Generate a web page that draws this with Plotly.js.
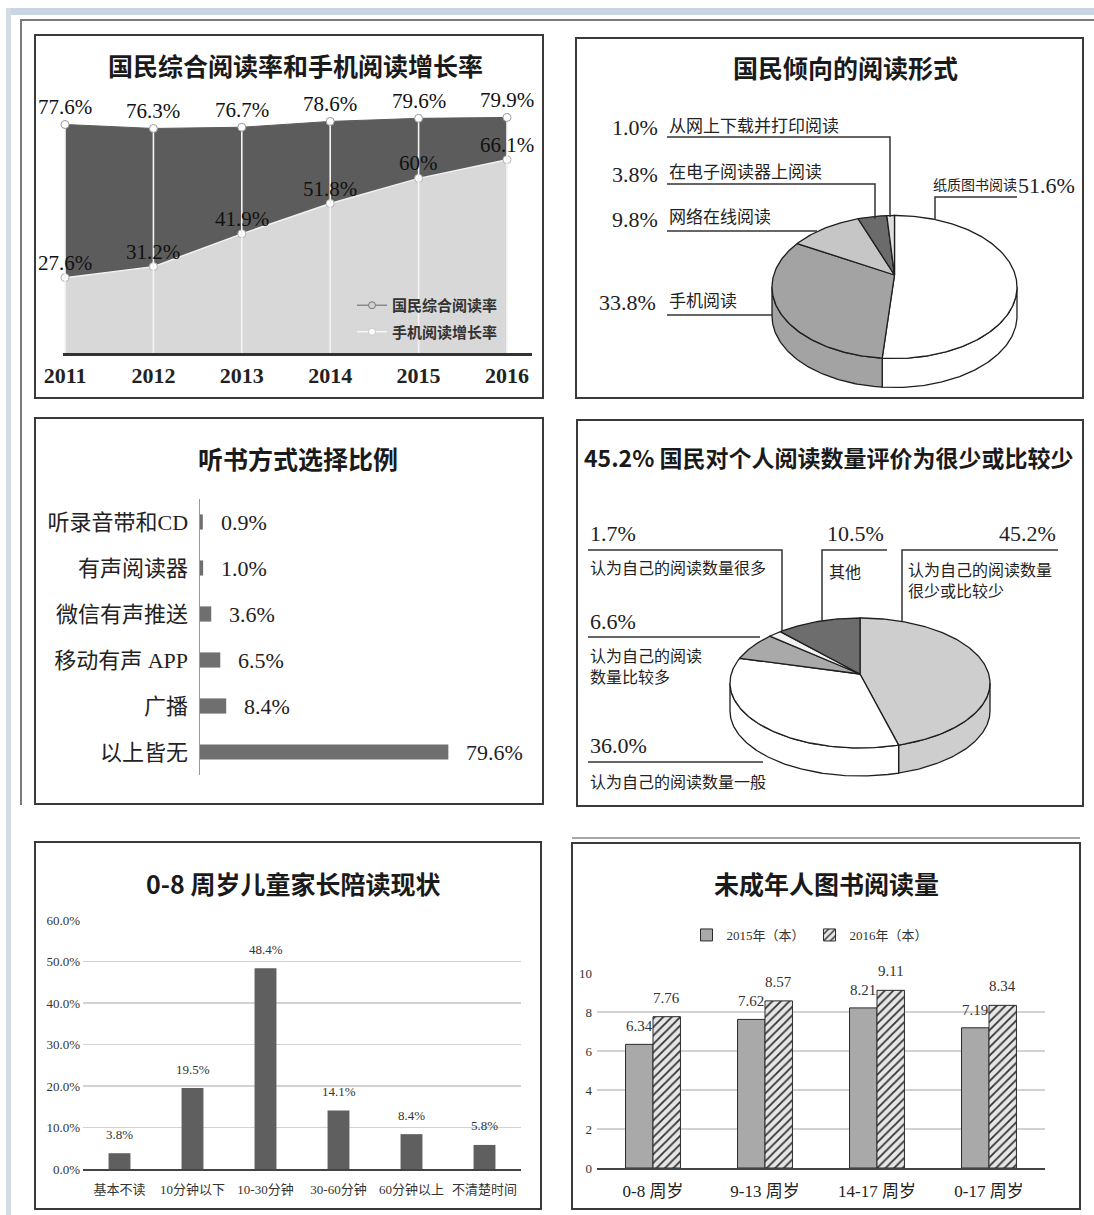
<!DOCTYPE html>
<html><head><meta charset="utf-8">
<script src="https://cdn.plot.ly/plotly-3.0.1.min.js"></script>
<style>html,body{margin:0;padding:0;background:#fff}#chart{width:1094px;height:1215px}</style>
</head><body><div id="chart"></div>
<script>
// ---------- DATA ----------
// Panel 1
const years = [2011, 2012, 2013, 2014, 2015, 2016];
const readRate = [77.6, 76.3, 76.7, 78.6, 79.6, 79.9];
const mobileGrowth = [27.6, 31.2, 41.9, 51.8, 60, 66.1];
const readRateLabels = ['77.6%', '76.3%', '76.7%', '78.6%', '79.6%', '79.9%'];
const mobileLabels = ['27.6%', '31.2%', '41.9%', '51.8%', '60%', '66.1%'];
// Panel 2
const formNames = ['纸质图书阅读', '手机阅读', '网络在线阅读', '在电子阅读器上阅读', '从网上下载并打印阅读'];
const formValues = [51.6, 33.8, 9.8, 3.8, 1.0];
// Panel 3
const listenCats = ['听录音带和CD', '有声阅读器', '微信有声推送', '移动有声 APP', '广播', '以上皆无'];
const listenValues = [0.9, 1.0, 3.6, 6.5, 8.4, 79.6];
// Panel 4
const evalNames = ['认为自己的阅读数量<br>很少或比较少', '认为自己的阅读数量一般', '认为自己的阅读<br>数量比较多', '认为自己的阅读数量很多', '其他'];
const evalValues = [45.2, 36.0, 6.6, 1.7, 10.5];
// Panel 5
const accompCats = ['基本不读', '10分钟以下', '10-30分钟', '30-60分钟', '60分钟以上', '不清楚时间'];
const accompValues = [3.8, 19.5, 48.4, 14.1, 8.4, 5.8];
// Panel 6
const ageCats = ['0-8 周岁', '9-13 周岁', '14-17 周岁', '0-17 周岁'];
const books2015 = [6.34, 7.62, 8.21, 7.19];
const books2016 = [7.76, 8.57, 9.11, 8.34];
const seriesNames = ['2015年（本）', '2016年（本）'];

// ---------- HELPERS ----------
const W = 1094, H = 1215;
const fx = p => p / W;
const fy = p => 1 - p / H;
const SERIF = 'Liberation Serif, Noto Sans CJK SC, serif';
const SANS = 'Noto Sans CJK SC, sans-serif';
const INK = '#222';

const traces = [];
const annotations = [];
const shapes = [];

function txt(x, y, text, size, opts) {
  opts = opts || {};
  annotations.push(Object.assign({
    xref: 'x5', yref: 'y5', x: x, y: y, text: text, showarrow: false,
    xanchor: 'left', yanchor: 'middle',
    font: {family: opts.family || SERIF, size: size, color: opts.color || INK}
  }, opts.extra || {}));
}
function title(x, y, text, size) {
  txt(x, y, '<b>' + text + '</b>', size, {family: SANS, color: '#1a1a1a', extra: {xanchor: 'center'}});
}
function poly(pts, color, width) {
  let d = 'M' + pts.map(p => p[0] + ',' + p[1]).join('L');
  shapes.push({type: 'path', xref: 'x5', yref: 'y5', path: d, line: {color: color || '#333', width: width || 1.5}});
}
function rect(x0, y0, x1, y1, color, width) {
  shapes.push({type: 'rect', xref: 'x5', yref: 'y5', x0: x0, y0: y0, x1: x1, y1: y1,
    line: {color: color || '#3a3a3a', width: width || 2}, fillcolor: 'rgba(0,0,0,0)'});
}

// 3D pie built from values, drawn on the page-pixel axes (x5/y5)
function pie3d(values, colors, g) {
  const total = values.reduce((a, b) => a + b, 0);
  const sides = [], tops = [];
  let cum = 0;
  const P = Math.PI;
  values.forEach((v, i) => {
    const a0 = cum / total * 2 * P; cum += v; const a1 = cum / total * 2 * P;
    const n = Math.max(2, Math.ceil((a1 - a0) / (P / 180)));
    const xs = [g.cx], ys = [g.cy + g.apexDy];
    for (let k = 0; k <= n; k++) {
      const t = a0 + (a1 - a0) * k / n;
      xs.push(g.cx + g.rx * Math.sin(t)); ys.push(g.cy - g.ry * Math.cos(t));
    }
    xs.push(g.cx); ys.push(g.cy + g.apexDy);
    tops.push({x: xs, y: ys, xaxis: 'x5', yaxis: 'y5', mode: 'lines', fill: 'toself',
      fillcolor: colors[i], line: {color: '#1e1e1e', width: 1.3}, hoverinfo: 'skip', showlegend: false});
    const s = Math.max(a0, P / 2), e = Math.min(a1, 3 * P / 2);
    if (e > s) {
      const m = Math.max(2, Math.ceil((e - s) / (P / 180)));
      const sx = [], sy = [];
      for (let k = 0; k <= m; k++) {
        const t = s + (e - s) * k / m;
        sx.push(g.cx + g.rx * Math.sin(t)); sy.push(g.cy - g.ry * Math.cos(t));
      }
      for (let k = m; k >= 0; k--) {
        const t = s + (e - s) * k / m;
        sx.push(g.cx + g.rx * Math.sin(t)); sy.push(g.cy - g.ry * Math.cos(t) + g.depth);
      }
      sx.push(sx[0]); sy.push(sy[0]);
      sides.push({x: sx, y: sy, xaxis: 'x5', yaxis: 'y5', mode: 'lines', fill: 'toself',
        fillcolor: colors[i], line: {color: '#1e1e1e', width: 1.3}, hoverinfo: 'skip', showlegend: false});
    }
  });
  return sides.concat(tops);
}

// ---------- PANEL 1 : area chart ----------
traces.push({
  x: years, y: mobileGrowth, xaxis: 'x', yaxis: 'y', mode: 'lines+markers',
  fill: 'tozeroy', fillcolor: '#d8d8d8', line: {color: '#f2f2f2', width: 1.5},
  marker: {symbol: 'circle', size: 8, color: '#ffffff', line: {color: '#b0b0b0', width: 1}},
  cliponaxis: false, hoverinfo: 'skip', showlegend: false
});
traces.push({
  x: years, y: readRate, xaxis: 'x', yaxis: 'y', mode: 'lines+markers',
  fill: 'tonexty', fillcolor: '#5c5c5c', line: {color: '#5c5c5c', width: 1},
  marker: {symbol: 'circle', size: 8, color: '#ffffff', line: {color: '#9a9a9a', width: 1}},
  error_y: {type: 'data', symmetric: false, array: readRate.map(() => 0), arrayminus: readRate,
    color: '#f4f4f4', thickness: 1.6, width: 0},
  cliponaxis: false, hoverinfo: 'skip', showlegend: false
});
years.forEach((yr, i) => {
  annotations.push({xref: 'x', yref: 'y', x: yr, y: readRate[i], text: readRateLabels[i], showarrow: false,
    xanchor: 'center', yanchor: 'middle', yshift: 17, font: {family: SERIF, size: 21, color: '#111'}});
  annotations.push({xref: 'x', yref: 'y', x: yr, y: mobileGrowth[i], text: mobileLabels[i], showarrow: false,
    xanchor: 'center', yanchor: 'middle', yshift: 15, font: {family: SERIF, size: 21, color: '#111'}});
});
traces.push({x: [null], y: [null], xaxis: 'x', yaxis: 'y', mode: 'lines+markers', name: '<b>国民综合阅读率</b>',
  legendgroup: 'a', legend: 'legend',
  line: {color: '#8a8a8a', width: 1.5}, marker: {symbol: 'circle', size: 7, color: '#d0d0d0', line: {color: '#777', width: 1}}});
traces.push({x: [null], y: [null], xaxis: 'x', yaxis: 'y', mode: 'lines+markers', name: '<b>手机阅读增长率</b>',
  legendgroup: 'b', legend: 'legend',
  line: {color: '#f6f6f6', width: 1.5}, marker: {symbol: 'circle', size: 7, color: '#ffffff', line: {color: '#c8c8c8', width: 1}}});

// ---------- PANEL 3 : horizontal bars ----------
traces.push({
  type: 'bar', orientation: 'h', y: listenCats, x: listenValues, xaxis: 'x2', yaxis: 'y2',
  width: 0.33, marker: {color: '#6f6f6f'}, hoverinfo: 'skip', showlegend: false
});
listenCats.forEach((c, i) => {
  annotations.push({xref: 'x2', yref: 'y2', x: listenValues[i], y: c, text: listenValues[i].toFixed(1) + '%',
    showarrow: false, xanchor: 'left', yanchor: 'middle', xshift: 16,
    font: {family: SERIF, size: 22, color: INK}});
});

// ---------- PANEL 5 : vertical bars ----------
traces.push({
  type: 'bar', x: accompCats, y: accompValues, xaxis: 'x3', yaxis: 'y3',
  width: 0.3, marker: {color: '#5f5f5f'}, hoverinfo: 'skip', showlegend: false
});
accompCats.forEach((c, i) => {
  annotations.push({xref: 'x3', yref: 'y3', x: c, y: accompValues[i], text: accompValues[i].toFixed(1) + '%',
    showarrow: false, xanchor: 'center', yanchor: 'middle', yshift: 19,
    font: {family: SERIF, size: 13, color: '#333'}});
});

// ---------- PANEL 6 : grouped bars ----------
traces.push({
  type: 'bar', x: ageCats, y: books2015, xaxis: 'x4', yaxis: 'y4', name: seriesNames[0], legend: 'legend2',
  width: 0.245, offset: -0.245,
  marker: {color: '#a9a9a9', line: {color: '#2a2a2a', width: 1}}, hoverinfo: 'skip'
});
traces.push({
  type: 'bar', x: ageCats, y: books2016, xaxis: 'x4', yaxis: 'y4', name: seriesNames[1], legend: 'legend2',
  width: 0.245, offset: 0,
  marker: {color: '#e6e6e6', line: {color: '#2a2a2a', width: 1},
    pattern: {shape: '/', fgcolor: '#333', bgcolor: '#e6e6e6', size: 6, solidity: 0.3}}, hoverinfo: 'skip'
});
ageCats.forEach((c, i) => {
  annotations.push({xref: 'x4', yref: 'y4', x: i - 0.1225, y: books2015[i], text: books2015[i].toFixed(2),
    showarrow: false, xanchor: 'center', yanchor: 'middle', yshift: 18,
    font: {family: SERIF, size: 15, color: '#333'}});
  annotations.push({xref: 'x4', yref: 'y4', x: i + 0.1225, y: books2016[i], text: books2016[i].toFixed(2),
    showarrow: false, xanchor: 'center', yanchor: 'middle', yshift: 19,
    font: {family: SERIF, size: 15, color: '#333'}});
});

// ---------- PANEL 2 : 3D pie ----------
pie3d(formValues, ['#ffffff', '#a3a3a3', '#c6c6c6', '#6b6b6b', '#dedede'],
  {cx: 894.5, cy: 287, rx: 122.5, ry: 71.5, apexDy: -12, depth: 29}).forEach(t => traces.push(t));

// ---------- PANEL 4 : 3D pie ----------
pie3d(evalValues, ['#cecece', '#ffffff', '#a9a9a9', '#f2f2f2', '#6d6d6d'],
  {cx: 860, cy: 683, rx: 130, ry: 65, apexDy: -9, depth: 28}).forEach(t => traces.push(t));

// ---------- FRAMES ----------
shapes.push({type: 'rect', xref: 'x5', yref: 'y5', x0: 6, y0: 8, x1: 1094, y1: 15, line: {width: 0}, fillcolor: '#c9d5e2'});
shapes.push({type: 'rect', xref: 'x5', yref: 'y5', x0: 6, y0: 8, x1: 11, y1: 1215, line: {width: 0}, fillcolor: '#d3dce6'});
poly([[21, 805], [21, 20], [1094, 20]], '#7a7a7a', 2);
poly([[572, 838], [1080, 838]], '#8a8a8a', 1.5);
rect(35, 35, 543, 398);
rect(576, 38, 1083, 398);
rect(35, 418, 543, 804);
rect(577, 420, 1083, 806);
rect(35, 842, 541, 1209);
rect(572, 843, 1080, 1209);

// ---------- TITLES ----------
title(295, 65, '国民综合阅读率和手机阅读增长率', 25);
title(845, 67, '国民倾向的阅读形式', 25);
title(298, 458, '听书方式选择比例', 25);
title(829, 457, '45.2% 国民对个人阅读数量评价为很少或比较少', 23);
title(293, 883, '0-8 周岁儿童家长陪读现状', 25);
title(826, 883, '未成年人图书阅读量', 25);

// ---------- PANEL 2 LABELS ----------
const pct = v => v.toFixed(1) + '%';
txt(610, 127, pct(formValues[4]), 22); txt(667, 126, formNames[4], 17);
txt(610, 174, pct(formValues[3]), 22); txt(667, 172, formNames[3], 17);
txt(610, 219, pct(formValues[2]), 22); txt(667, 217, formNames[2], 17);
txt(597, 302, pct(formValues[1]), 22); txt(667, 301, formNames[1], 17);
txt(931, 185, formNames[0], 14); txt(1016, 185, pct(formValues[0]), 22);
poly([[667, 137], [890, 137], [890, 217]]);
poly([[667, 184], [875, 184], [875, 219]]);
poly([[667, 231], [817, 231]]);
poly([[667, 315], [772, 315]]);
poly([[935, 220], [935, 197], [1017, 197]]);

// ---------- PANEL 4 LABELS ----------
txt(588, 533, pct(evalValues[3]), 22); txt(588, 568, evalNames[3], 16);
txt(825, 533, pct(evalValues[4]), 22); txt(827, 572, evalNames[4], 16);
txt(1058, 533, pct(evalValues[0]), 22, {extra: {xanchor: 'right'}});
txt(906, 560, evalNames[0], 16, {extra: {yanchor: 'top', align: 'left'}});
txt(588, 621, pct(evalValues[2]), 22);
txt(588, 646, evalNames[2], 16, {extra: {yanchor: 'top', align: 'left'}});
txt(588, 745, pct(evalValues[1]), 22); txt(588, 782, evalNames[1], 16);
poly([[588, 550], [782, 550], [782, 631]]);
poly([[822, 621], [822, 550], [887, 550]]);
poly([[902, 621], [902, 550], [1058, 550]]);
poly([[588, 637], [760, 637]]);
poly([[588, 762], [763, 762]]);

// ---------- LAYOUT ----------
const layout = {
  width: W, height: H, autosize: false,
  margin: {l: 0, r: 0, t: 0, b: 0, pad: 0},
  paper_bgcolor: '#ffffff', plot_bgcolor: 'rgba(0,0,0,0)',
  font: {family: SERIF, color: INK},
  showlegend: true,
  barmode: 'group',
  // Panel 1
  xaxis: {domain: [fx(63), fx(532)], range: [2010.977, 2016.283], anchor: 'y',
    tickvals: years, ticktext: years.map(String), tickfont: {family: SERIF, size: 22, color: INK, weight: 'bold'},
    showline: true, linecolor: '#333', linewidth: 2.5, ticks: 'outside', ticklen: 1, tickcolor: 'rgba(0,0,0,0)',
    showgrid: false, zeroline: false, fixedrange: true},
  yaxis: {domain: [fy(353), fy(111)], range: [3, 82], anchor: 'x', visible: false, fixedrange: true},
  // Panel 3
  xaxis2: {domain: [fx(200), fx(512)], range: [0, 100], anchor: 'y2', visible: false, fixedrange: true},
  yaxis2: {domain: [fy(775), fy(499)], anchor: 'x2', type: 'category', autorange: 'reversed',
    showline: true, linecolor: '#999', linewidth: 1.5, ticks: '', showgrid: false, zeroline: false,
    ticklabelstandoff: 6, tickfont: {family: SERIF, size: 22, color: INK}, fixedrange: true},
  // Panel 5
  xaxis3: {domain: [fx(83), fx(521)], anchor: 'y3', type: 'category',
    showline: true, linecolor: '#444', linewidth: 2, ticks: 'outside', ticklen: 7, tickcolor: 'rgba(0,0,0,0)',
    tickfont: {family: SERIF, size: 13, color: '#333'}, showgrid: false, zeroline: false, fixedrange: true},
  yaxis3: {domain: [fy(1169), fy(920)], anchor: 'x3', range: [0, 60], dtick: 10, tickformat: '.1f', ticksuffix: '%',
    showgrid: true, gridcolor: '#d2d2d2', gridwidth: 1.2, zeroline: false, showline: false,
    tickfont: {family: SERIF, size: 13, color: '#333'}, ticklabelstandoff: 2, fixedrange: true},
  // Panel 6
  xaxis4: {domain: [fx(597), fx(1045)], anchor: 'y4', type: 'category',
    showline: true, linecolor: '#444', linewidth: 2, ticks: 'outside', ticklen: 7, tickcolor: 'rgba(0,0,0,0)',
    tickfont: {family: SERIF, size: 17, color: '#222'}, showgrid: false, zeroline: false, fixedrange: true},
  yaxis4: {domain: [fy(1168), fy(973)], anchor: 'x4', range: [0, 10], dtick: 2,
    showgrid: true, gridcolor: '#d2d2d2', gridwidth: 1.2, zeroline: false, showline: false,
    tickfont: {family: SERIF, size: 13, color: '#333'}, ticklabelstandoff: 4, fixedrange: true},
  // page-pixel axes for pies, labels, frames
  xaxis5: {domain: [0, 1], range: [0, W], anchor: 'y5', visible: false, fixedrange: true},
  yaxis5: {domain: [0, 1], range: [H, 0], anchor: 'x5', visible: false, fixedrange: true},
  legend: {x: fx(352), y: fy(289), xanchor: 'left', yanchor: 'top', bgcolor: 'rgba(0,0,0,0)',
    font: {family: SANS, size: 15, color: '#333'}, traceorder: 'grouped', tracegroupgap: 4, itemwidth: 30},
  legend2: {orientation: 'h', x: fx(810), y: fy(935), xanchor: 'center', yanchor: 'middle', bgcolor: 'rgba(0,0,0,0)',
    font: {family: SERIF, size: 13, color: '#333'}, itemwidth: 30},
  annotations: annotations,
  shapes: shapes
};

Plotly.newPlot('chart', traces, layout, {staticPlot: true, displayModeBar: false});
</script>
</body></html>
